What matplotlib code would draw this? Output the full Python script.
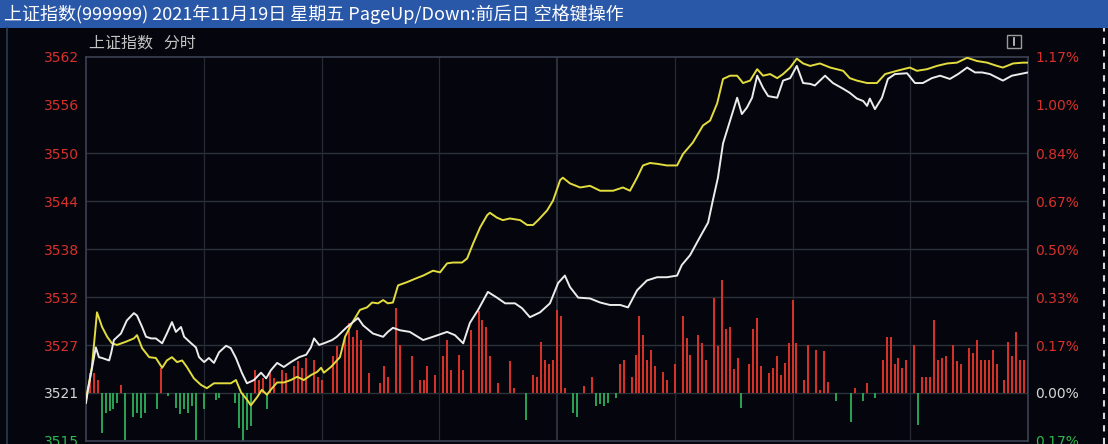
import matplotlib
matplotlib.use("Agg")
import matplotlib.pyplot as plt
from matplotlib.patches import Rectangle
from matplotlib.lines import Line2D

plt.rcParams['font.family'] = ['Noto Sans CJK SC', 'DejaVu Sans']

# 昨收和刻度
prev_close = 3520.71
step_pct = 0.1671
price_labels = ["3515", "3521", "3527", "3532", "3538", "3544", "3550", "3556", "3562"]
pct_labels = ["0.17%", "0.00%", "0.17%", "0.33%", "0.50%", "0.67%", "0.84%", "1.00%", "1.17%"]
title_text = "上证指数(999999) 2021年11月19日 星期五 PageUp/Down:前后日 空格键操作"
sub_text = "上证指数   分时"

# 白线 (分钟, 点位)
white_min = [0, 0.5, 2.5, 3.3, 4.1, 5.9, 6.4, 7.1, 8.9, 10.4, 12.2, 13.0, 14.3, 15.3, 16.6,
             17.8, 19.4, 20.6, 21.9, 22.9, 24.2, 25.0, 26.8, 28.0, 28.8, 30.1, 31.3, 32.6,
             33.9, 35.7, 36.9, 38.2, 39.7, 41.0, 42.8, 44.6, 45.9, 47.1, 48.7, 50.4, 52.2,
             54.3, 56.1, 57.3, 58.1, 59.4, 60.6, 62.7, 63.9, 66.5, 69.3, 70.6, 73.1, 75.7,
             76.9, 78.2, 80.0, 82.5, 85.9, 88.4, 92.0, 94.0, 96.1, 97.8, 99.9, 102.4, 104.7,
             106.8, 109.3, 111.1, 113.1, 115.7, 118.2, 120.3, 122.0, 123.3, 125.4, 128.4,
             131.0, 133.5, 136.1, 138.1, 140.4, 142.9, 145.5, 148.0, 150.6, 151.8, 153.9,
             156.4, 158.5, 159.7, 161.0, 162.3, 164.1, 165.9, 167.1, 168.4, 169.7, 171.0,
             172.5, 173.8, 176.1, 177.6, 179.4, 181.1, 182.7, 184.5, 185.7, 188.3, 190.3,
             192.9, 194.6, 196.4, 198.0, 199.0, 199.7, 201.0, 202.8, 204.3, 206.1, 209.2,
             211.2, 213.2, 215.5, 217.6, 220.1, 222.2, 224.5, 226.5, 228.3, 230.3, 232.4,
             233.6, 235.9, 238.0, 240]
white_val = [3519.5, 3521.1, 3526.3, 3525.1, 3525.0, 3524.7, 3525.6, 3527.2, 3528.0, 3529.6,
             3530.5, 3530.2, 3528.8, 3527.6, 3527.4, 3527.4, 3526.8, 3528.0, 3529.4, 3528.2,
             3528.8, 3527.6, 3526.8, 3526.3, 3525.1, 3524.5, 3525.0, 3524.4, 3525.7, 3526.5,
             3526.2, 3525.0, 3523.2, 3521.9, 3522.3, 3523.2, 3522.5, 3523.5, 3524.4, 3523.9,
             3524.5, 3525.1, 3525.4, 3526.3, 3527.4, 3526.6, 3526.8, 3527.2, 3527.6, 3528.8,
             3529.9, 3529.0, 3528.0, 3527.6, 3528.2, 3528.7, 3528.4, 3528.2, 3527.2, 3527.6,
             3528.2, 3527.8, 3526.8, 3529.3, 3530.9, 3533.1, 3532.4, 3531.7, 3531.7, 3531.1,
             3530.0, 3530.6, 3531.7, 3534.2, 3535.1, 3533.7, 3532.4, 3532.3, 3531.8, 3531.5,
             3531.5, 3531.2, 3533.3, 3534.5, 3534.9, 3534.9, 3535.1, 3536.4, 3537.6, 3539.8,
             3541.6, 3544.3, 3547.1, 3551.3, 3554.1, 3556.9, 3554.9, 3555.7, 3556.9, 3559.6,
             3558.1, 3557.1, 3556.9, 3559.0, 3559.3, 3560.8, 3558.7, 3558.6, 3558.4, 3559.6,
             3558.7, 3558.0, 3557.5, 3556.8, 3556.5, 3555.9, 3556.8, 3555.5, 3556.9, 3559.2,
             3559.8, 3559.9, 3558.7, 3558.7, 3559.3, 3559.6, 3559.2, 3559.8, 3560.6, 3560.0,
             3560.0, 3559.8, 3559.3, 3559.0, 3559.6, 3559.8, 3560.0]

# 黄线 (分钟, 点位)
yellow_min = [0, 1.5, 2.8, 4.1, 5.4, 6.6, 7.9, 10.2, 12.2, 13.0, 14.3, 16.1, 17.8, 19.4, 20.6,
              21.9, 23.2, 24.5, 25.7, 27.5, 29.3, 30.8, 32.6, 34.4, 36.9, 38.2, 39.5, 41.0,
              42.0, 43.6, 44.8, 46.1, 47.4, 48.7, 50.4, 52.2, 53.8, 55.5, 57.3, 58.9, 59.9,
              60.6, 62.4, 64.7, 66.0, 67.8, 69.8, 71.6, 72.9, 74.4, 75.7, 76.9, 78.2, 79.5,
              81.8, 84.3, 85.9, 88.4, 90.2, 92.0, 93.5, 95.8, 97.1, 98.6, 100.4, 102.2, 102.9,
              104.7, 106.2, 108.0, 110.6, 112.4, 113.9, 115.2, 117.5, 119.0, 120.8, 121.5,
              123.3, 125.9, 128.4, 131.0, 134.3, 136.8, 138.6, 140.4, 141.9, 143.7, 145.5,
              148.0, 150.6, 152.1, 154.6, 157.2, 159.0, 160.8, 162.3, 164.1, 165.9, 167.4,
              169.2, 171.0, 172.5, 174.3, 176.1, 177.6, 179.4, 181.1, 182.7, 184.5, 187.0,
              189.6, 192.9, 194.6, 196.4, 199.0, 201.5, 203.6, 206.6, 209.9, 211.7, 214.3,
              216.8, 219.4, 221.9, 224.5, 227.0, 229.6, 232.1, 233.6, 236.2, 238.7, 240]
yellow_val = [3519.9, 3523.9, 3530.6, 3528.8, 3527.6, 3526.8, 3526.6, 3527.0, 3527.4, 3527.8,
              3526.2, 3525.1, 3525.0, 3523.8, 3524.7, 3525.1, 3524.5, 3524.7, 3523.9, 3522.5,
              3521.7, 3521.3, 3521.9, 3521.9, 3521.9, 3522.3, 3520.8, 3519.9, 3519.2, 3520.2,
              3521.1, 3520.5, 3521.3, 3522.0, 3522.0, 3522.3, 3522.7, 3522.3, 3522.9, 3523.3,
              3523.8, 3523.2, 3523.9, 3525.1, 3527.6, 3529.3, 3530.9, 3531.2, 3531.8, 3531.7,
              3532.1, 3531.7, 3531.8, 3533.9, 3534.3, 3534.8, 3535.1, 3535.7, 3535.5, 3536.6,
              3536.7, 3536.7, 3537.2, 3539.0, 3541.0, 3542.5, 3542.8, 3542.2, 3541.9, 3542.1,
              3541.9, 3541.3, 3541.3, 3541.9, 3543.1, 3544.3, 3546.8, 3547.1, 3546.4, 3545.9,
              3546.1, 3545.5, 3545.5, 3545.9, 3545.5, 3547.1, 3548.6, 3548.9, 3548.8, 3548.6,
              3548.6, 3550.0, 3551.4, 3553.5, 3554.1, 3556.2, 3559.2, 3559.6, 3559.6, 3558.7,
              3559.0, 3560.4, 3559.6, 3559.8, 3559.3, 3559.8, 3560.6, 3561.7, 3561.1, 3560.8,
              3561.1, 3560.6, 3560.2, 3559.3, 3559.0, 3558.7, 3558.7, 3559.8, 3560.2, 3560.6,
              3560.2, 3560.4, 3560.8, 3561.1, 3561.2, 3561.8, 3561.4, 3561.2, 3560.8, 3560.6,
              3561.1, 3561.2, 3561.2]

# 红绿柱 (分钟, 相对昨收的点数)
bar_min = [1, 2, 3, 4, 5, 6, 7, 8, 9, 10, 12, 13, 14, 15, 18, 19, 21, 23, 24, 25, 26, 27, 28,
           30, 33, 34, 38, 39, 40, 41, 42, 43, 44, 45, 46, 47, 48, 50, 51, 53, 54, 55, 56, 58,
           59, 60, 63, 64, 66, 67, 68, 69, 70, 72, 75, 76, 77, 79, 80, 83, 85, 86, 87, 89, 91,
           92, 93, 95, 96, 98, 100, 101, 102, 103, 105, 108, 109, 112, 114, 115, 116, 117, 118,
           119, 120, 121, 122, 124, 125, 127, 129, 130, 131, 132, 133, 135, 136, 137, 139, 140,
           141, 142, 143, 144, 145, 147, 148, 150, 152, 153, 154, 156, 157, 158, 160, 161, 162,
           163, 164, 165, 166, 167, 169, 170, 171, 172, 174, 175, 176, 177, 178, 179, 180, 181,
           183, 184, 186, 187, 188, 189, 191, 195, 196, 198, 199, 201, 203, 204, 205, 206, 207,
           208, 209, 211, 212, 213, 214, 215, 216, 217, 218, 219, 221, 222, 223, 225, 226, 227,
           228, 229, 230, 231, 232, 234, 235, 236, 237, 238, 239, 240]
bar_val = [2.4, 2.4, 1.6, -4.9, -2.4, -2.2, -2.0, -1.2, 1.0, -5.7, -2.9, -2.4, -3.1, -2.4, -2.0,
           3.1, -0.4, -1.8, -2.6, -2.0, -2.4, -1.6, -5.7, -2.0, -0.8, -0.6, -1.2, -4.3, -6.1,
           -4.5, -4.1, 2.8, 1.6, 1.8, -2.0, 2.4, 1.8, 2.8, 2.4, 3.3, 3.9, 3.1, 4.3, 4.1, 2.0,
           1.6, 4.5, 5.7, 6.9, 8.6, 6.9, 7.7, 6.5, 2.4, 1.2, 3.3, 2.0, 10.4, 5.9, 4.5, 1.6, 1.6,
           3.3, 2.2, 4.5, 6.5, 2.8, 4.7, 2.8, 7.7, 10.1, 8.9, 8.1, 4.5, 1.2, 3.9, 0.6, -3.3, 2.2,
           2.0, 6.3, 4.1, 3.5, 4.1, 10.2, 9.4, 0.6, -2.4, -2.9, 0.8, 2.0, -1.6, -1.4, -1.6, -1.2,
           -0.6, 3.5, 4.1, 2.0, 4.7, 9.4, 7.1, 4.1, 5.3, 3.3, 2.6, 1.6, 3.5, 9.4, 6.7, 4.7, 7.1,
           6.1, 4.1, 11.6, 5.7, 13.9, 7.9, 8.1, 2.9, 4.3, -1.8, 3.5, 7.9, 9.2, 3.3, 2.4, 3.1,
           4.5, 2.2, 3.7, 6.1, 11.4, 6.1, 1.6, 5.9, 5.3, 0.4, 5.1, 1.4, -1.0, -3.5, 0.6, -1.0,
           1.2, -0.6, 4.1, 6.9, 6.9, 3.5, 4.3, 3.1, 4.1, 5.9, -3.9, 2.0, 2.0, 2.0, 9.0, 4.1,
           4.3, 4.5, 5.9, 3.9, 3.5, 5.5, 4.9, 6.5, 4.1, 4.1, 4.1, 5.3, 3.5, 1.6, 6.3, 4.5, 7.5,
           4.1, 4.1, 4.1]

W, H = 1108, 444
bg = '#05060d'
fig = plt.figure(figsize=(W / 100, H / 100), dpi=100, facecolor=bg)

# 标题栏
fig.patches.append(Rectangle((0, 1 - 28 / H), 1, 28 / H, transform=fig.transFigure,
                             facecolor='#2a58a8', edgecolor='none', zorder=0))
fig.text(4 / W, 1 - 14 / H, title_text, color='white', fontsize=13, va='center', ha='left')
fig.text(89 / W, 1 - 43 / H, sub_text, color='#c4c4c4', fontsize=11.5, va='center', ha='left')

# 左边的竖线和右边虚线
fig.add_artist(Line2D([7 / W, 7 / W], [0, 1 - 28 / H], color='#2c3a55', lw=1.2))
fig.add_artist(Line2D([1104 / W, 1104 / W], [0, 1 - 28 / H], color='#d8d8d8', lw=1.5,
                      ls=(0, (3, 3))))
# 右上角小按钮
fig.patches.append(Rectangle((1007 / W, 1 - 48 / H), 14 / W, 13 / H, transform=fig.transFigure,
                             facecolor='none', edgecolor='#9a9a9a', lw=1))
fig.add_artist(Line2D([1014 / W, 1014 / W], [1 - 45 / H, 1 - 38 / H], color='#cfcfcf', lw=1.2))

ax = fig.add_axes([86 / W, 3 / H, 942 / W, 384 / H])
ax.set_facecolor(bg)

levels = [prev_close * (1 + k * step_pct / 100) for k in range(-1, 8)]
ax.set_ylim(levels[0], levels[-1])
ax.set_xlim(0, 240)

grid_col = '#262a34'
for i, lv in enumerate(levels[1:-1]):
    if price_labels[i + 1] == "3556":
        continue
    ax.axhline(lv, color='#2c303b', lw=1, zorder=1)
for m in range(30, 240, 30):
    ax.axvline(m, color='#30343f' if m == 120 else grid_col, lw=1.3 if m == 120 else 0.9, zorder=1)

for s in ax.spines.values():
    s.set_color('#3b4150')
    s.set_linewidth(1.2)

# 红绿柱
red_x = [m for m, v in zip(bar_min, bar_val) if v > 0]
red_v = [prev_close + v for v in bar_val if v > 0]
grn_x = [m for m, v in zip(bar_min, bar_val) if v < 0]
grn_v = [prev_close + v for v in bar_val if v < 0]
ax.vlines(red_x, prev_close, red_v, colors='#dc3329', lw=1.4, zorder=2)
ax.vlines(grn_x, prev_close, grn_v, colors='#2aa556', lw=1.4, zorder=2)

ax.plot(yellow_min, yellow_val, color='#e3dc3f', lw=1.4, zorder=3)
ax.plot(white_min, white_val, color='#ececec', lw=1.4, zorder=4)

# 左刻度
ax.set_xticks([])
ax.set_yticks(levels)
ax.set_yticklabels(price_labels)
ax.tick_params(axis='y', length=0, pad=5, labelsize=10)
for i, t in enumerate(ax.get_yticklabels()):
    t.set_color('#2fb84f' if i == 0 else ('#d6d6d6' if i == 1 else '#d8302b'))
    t.set_fontfamily('DejaVu Sans')

# 右刻度
ax2 = ax.twinx()
ax2.set_ylim(ax.get_ylim())
ax2.set_yticks(levels)
ax2.set_yticklabels(pct_labels)
ax2.tick_params(axis='y', length=0, pad=5, labelsize=10)
for s in ax2.spines.values():
    s.set_visible(False)
for i, t in enumerate(ax2.get_yticklabels()):
    t.set_color('#2fb84f' if i == 0 else ('#d6d6d6' if i == 1 else '#d8302b'))
    t.set_fontfamily('DejaVu Sans')

fig.savefig('out.png', dpi=100, facecolor=bg)
